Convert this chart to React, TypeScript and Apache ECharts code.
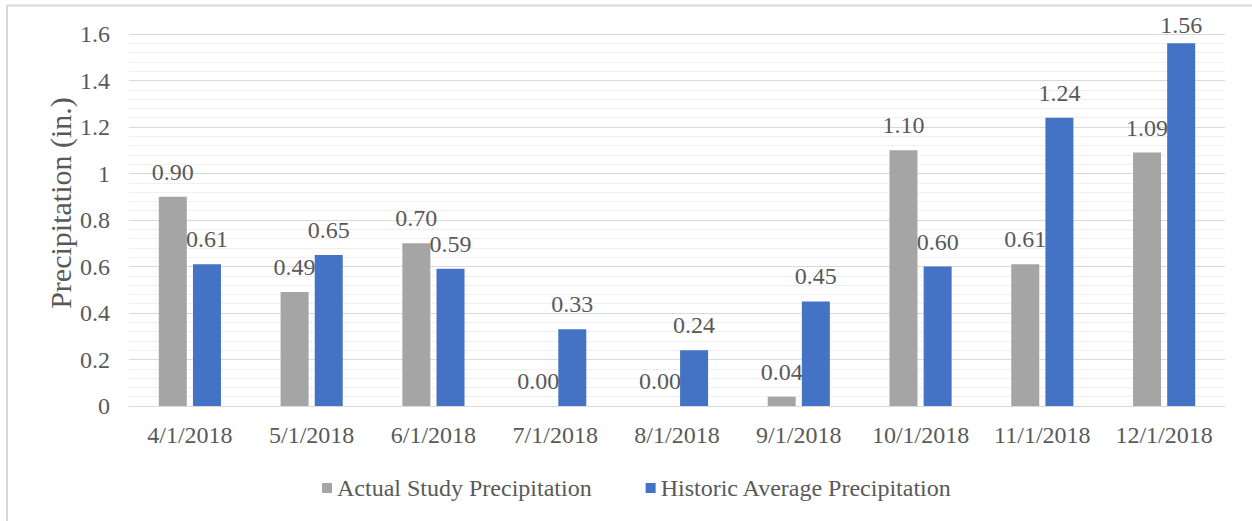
import React, { useEffect, useRef } from "react";
import * as echarts from "echarts";

const categories = ["4/1/2018", "5/1/2018", "6/1/2018", "7/1/2018", "8/1/2018", "9/1/2018", "10/1/2018", "11/1/2018", "12/1/2018"];
const actual = [0.9, 0.49, 0.7, 0.0, 0.0, 0.04, 1.1, 0.61, 1.09];
const historic = [0.61, 0.65, 0.59, 0.33, 0.24, 0.45, 0.6, 1.24, 1.56];
const seriesNames = ["Actual Study Precipitation", "Historic Average Precipitation"];
const yTitle = "Precipitation (in.)";

const FONT = "'Liberation Serif', 'Times New Roman', serif";
const TXT = "#595959";

export default function App() {
  const ref = useRef<HTMLDivElement>(null);
  useEffect(() => {
    const chart = echarts.init(ref.current!, null, { renderer: "svg" });
    const label = {
      show: true,
      position: "top" as const,
      distance: 13,
      fontFamily: FONT,
      fontSize: 24,
      color: TXT,
      formatter: (p: any) => Number(p.value).toFixed(2),
    };
    chart.setOption({
      animation: false,
      backgroundColor: "#fff",
      textStyle: { fontFamily: FONT },
      graphic: [
        {
          type: "rect",
          shape: { x: 7, y: 5.5, width: 1260, height: 530 },
          style: { fill: "none", stroke: "#d9d9d9", lineWidth: 2 },
          silent: true,
        },
        {
          type: "text",
          x: 60,
          y: 203,
          rotation: Math.PI / 2,
          style: {
            text: yTitle,
            fontFamily: FONT,
            fontSize: 30,
            fill: TXT,
            align: "center",
            verticalAlign: "middle",
          },
          silent: true,
        },
      ],
      legend: {
        data: seriesNames,
        left: 317,
        top: 471,
        itemWidth: 10,
        itemHeight: 10,
        itemGap: 54,
        icon: "rect",
        textStyle: { fontFamily: FONT, fontSize: 24, color: TXT },
      },
      grid: { left: 129, right: 27, top: 34, bottom: 115 },
      xAxis: {
        type: "category",
        data: categories,
        axisLine: { lineStyle: { color: "#d9d9d9", width: 1 } },
        axisTick: { show: false },
        axisLabel: { fontFamily: FONT, fontSize: 24, color: TXT, margin: 17, interval: 0 },
      },
      yAxis: {
        type: "value",
        min: 0,
        max: 1.6,
        interval: 0.2,
        axisLabel: {
          fontFamily: FONT,
          fontSize: 24,
          color: TXT,
          margin: 19,
          formatter: (v: number) => String(Math.round(v * 10) / 10),
        },
        axisLine: { show: false },
        axisTick: { show: false },
        splitLine: { lineStyle: { color: "#d9d9d9", width: 1 } },
        minorTick: { show: false, splitNumber: 5 },
        minorSplitLine: { show: true, lineStyle: { color: "#f0f0f0", width: 1 } },
      },
      series: [
        {
          name: seriesNames[0],
          type: "bar",
          data: actual,
          itemStyle: { color: "#a5a5a5" },
          barWidth: 28,
          barGap: "22%",
          label,
        },
        {
          name: seriesNames[1],
          type: "bar",
          data: historic.map((v, i) =>
            i === historic.length - 1 ? { value: v, label: { distance: 6 } } : v
          ),
          itemStyle: { color: "#4472c4" },
          barWidth: 28,
          barGap: "22%",
          label,
        },
      ],
    });
    return () => chart.dispose();
  }, []);
  return (
    <div
      ref={ref}
      style={{ position: "absolute", left: 0, top: 0, width: 1252, height: 521 }}
    />
  );
}
